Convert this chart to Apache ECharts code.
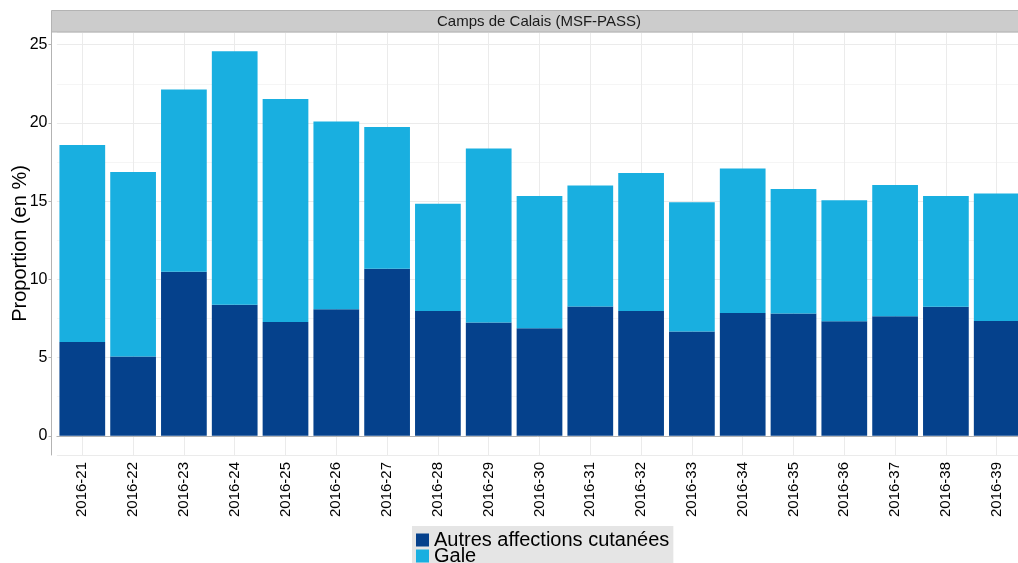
<!DOCTYPE html>
<html>
<head>
<meta charset="utf-8">
<script src="https://cdn.jsdelivr.net/npm/echarts@6/dist/echarts.min.js"></script>
<style>
  html, body { margin: 0; padding: 0; background: #fff; }
  #chart { width: 1018px; height: 563px; }
</style>
</head>
<body>
<div id="chart"></div>
<script>
const weeks = ['2016-21', '2016-22', '2016-23', '2016-24', '2016-25', '2016-26', '2016-27',
  '2016-28', '2016-29', '2016-30', '2016-31', '2016-32', '2016-33', '2016-34', '2016-35',
  '2016-36', '2016-37', '2016-38', '2016-39'];
const autres = [6.0, 5.06, 10.49, 8.38, 7.28, 8.09, 10.68, 7.98, 7.24, 6.87, 8.26, 7.98,
  6.66, 7.85, 7.81, 7.32, 7.64, 8.24, 7.34];
const gale = [12.58, 11.80, 11.64, 16.20, 14.24, 12.00, 9.05, 6.85, 11.13, 8.45, 7.74, 8.81,
  8.26, 9.24, 7.96, 7.73, 8.39, 7.08, 8.15];
const yTicks = [0, 5, 10, 15, 20, 25];

const font = "'Liberation Sans', Arial, sans-serif";
const chart = echarts.init(document.getElementById('chart'));

const option = {
  animation: false,
  textStyle: { fontFamily: font },
  grid: { left: 56.9, right: -4.1, top: 32, bottom: 108, outerBoundsMode: 'none', containLabel: false },
  graphic: [
    {
      type: 'rect',
      shape: { x: 51.5, y: 10.5, width: 1000, height: 21.5 },
      style: { fill: '#cccccc', stroke: '#b3b3b3', lineWidth: 1 },
      z: 10
    },
    {
      type: 'text',
      x: 539, y: 21.5,
      style: {
        text: 'Camps de Calais (MSF-PASS)', fill: '#1a1a1a', font: '15px ' + font,
        align: 'center', verticalAlign: 'middle'
      },
      z: 11
    }
  ],
  legend: {
    data: ['Autres affections cutanées', 'Gale'],
    orient: 'vertical',
    left: 412, top: 526, height: 120,
    backgroundColor: '#e5e5e5',
    padding: [4, 4, 4, 4],
    itemWidth: 13, itemHeight: 13, itemGap: -4,
    icon: 'rect',
    textStyle: { fontSize: 20, color: '#000', lineHeight: 14, fontFamily: font }
  },
  xAxis: {
    type: 'category',
    data: weeks,
    axisLine: { lineStyle: { color: '#b3b3b3', width: 1 } },
    axisTick: { alignWithLabel: true, length: 3, lineStyle: { color: '#b3b3b3' } },
    axisLabel: { rotate: 90, fontSize: 15, color: '#000', margin: 7, fontFamily: font },
    splitLine: { show: true, alignWithLabel: true, lineStyle: { color: '#ebebeb', width: 1 } }
  },
  yAxis: {
    type: 'value',
    min: -1.229, max: 25.81,
    minInterval: 5, maxInterval: 5,
    offset: 5.4,
    name: 'Proportion (en %)',
    nameLocation: 'middle',
    nameGap: 21,
    nameMoveOverlap: false,
    nameTextStyle: { fontSize: 20, color: '#000', fontFamily: font },
    axisLine: { show: true, lineStyle: { color: '#b3b3b3', width: 1 } },
    axisTick: { show: true, length: 3, lineStyle: { color: '#b3b3b3' } },
    axisLabel: {
      fontSize: 16, color: '#000', margin: 4, fontFamily: font,
      showMinLabel: false, showMaxLabel: false,
      formatter: v => (yTicks.includes(Math.round(v * 1000) / 1000) ? String(v) : '')
    },
    splitLine: { show: true, lineStyle: { color: '#ebebeb', width: 1 } },
    minorTick: { show: false, splitNumber: 2 },
    minorSplitLine: { show: true, lineStyle: { color: '#f5f5f5', width: 1 } }
  },
  series: [
    {
      name: 'Autres affections cutanées',
      type: 'bar',
      stack: 'total',
      data: autres,
      barWidth: '90%',
      itemStyle: { color: '#05418c' }
    },
    {
      name: 'Gale',
      type: 'bar',
      stack: 'total',
      data: gale,
      barWidth: '90%',
      itemStyle: { color: '#19afe0' }
    }
  ]
};

chart.setOption(option);
</script>
</body>
</html>
